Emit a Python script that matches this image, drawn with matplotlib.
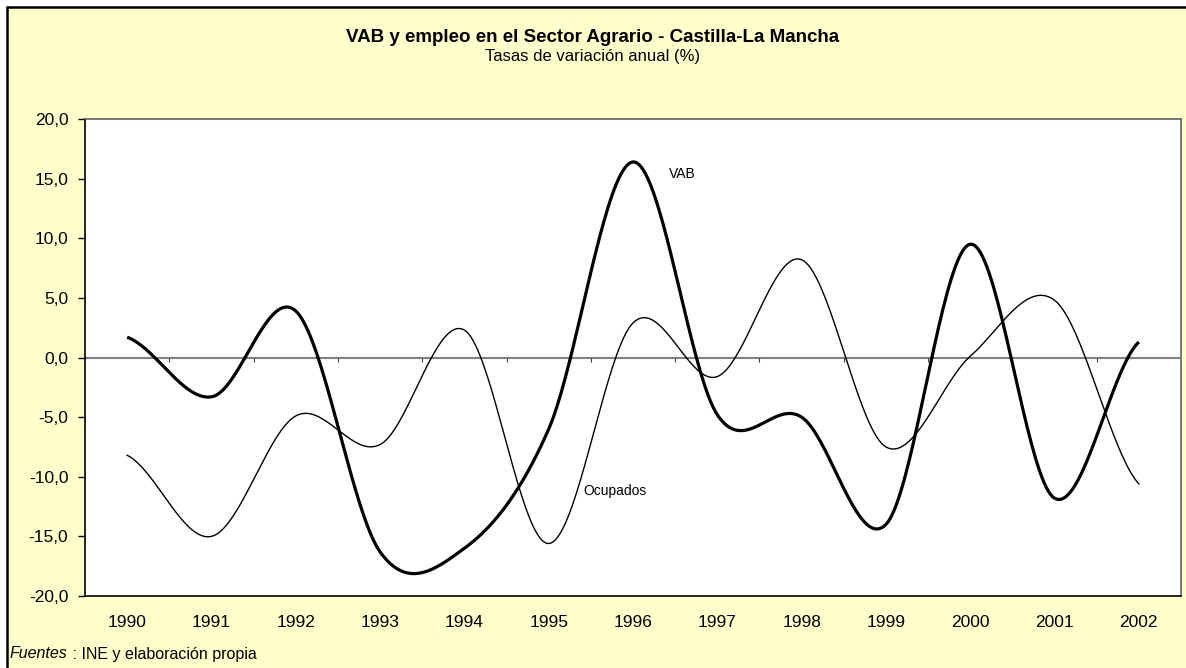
import numpy as np
import matplotlib
matplotlib.use("Agg")
import matplotlib.pyplot as plt
from matplotlib.patches import Rectangle
from matplotlib.ticker import FuncFormatter

plt.rcParams['font.family'] = ['Liberation Sans', 'DejaVu Sans']

### Data (annual rate of change, %)
years = ['1990', '1991', '1992', '1993', '1994', '1995', '1996',
         '1997', '1998', '1999', '2000', '2001', '2002']
vab = [1.7, -3.3, 3.9, -16.3, -16.0, -6.0, 16.4, -4.8, -5.0, -14.0, 9.5, -11.8, 1.3]
ocupados = [-8.2, -15.0, -4.9, -7.3, 2.3, -15.6, 2.9, -1.6, 8.2, -7.5, 0.1, 4.8, -10.6]

yticks = [-20, -15, -10, -5, 0, 5, 10, 15, 20]

title = 'VAB y empleo en el Sector Agrario - Castilla-La Mancha'
subtitle = 'Tasas de variación anual (%)'

BG = '#FFFFCC'


### Excel-like smoothed line (Catmull-Rom through the points)
def smooth(y, n=40):
    y = np.asarray(y, dtype=float)
    p = np.concatenate([[y[0]], y, [y[-1]]])
    xs, ys = [], []
    for i in range(len(y) - 1):
        p0, p1, p2, p3 = p[i], p[i + 1], p[i + 2], p[i + 3]
        t = np.linspace(0, 1, n, endpoint=False)
        m1 = (p2 - p0) / 2
        m2 = (p3 - p1) / 2
        h00 = 2 * t**3 - 3 * t**2 + 1
        h10 = t**3 - 2 * t**2 + t
        h01 = -2 * t**3 + 3 * t**2
        h11 = t**3 - t**2
        xs.append(i + t)
        ys.append(h00 * p1 + h10 * m1 + h01 * p2 + h11 * m2)
    xs.append([len(y) - 1])
    ys.append([y[-1]])
    return np.concatenate(xs), np.concatenate(ys)


fig = plt.figure(figsize=(11.86, 6.68), dpi=100)
fig.patch.set_facecolor('white')

# chart area (yellow) with black border, cropped at right/bottom
fig.patches.append(Rectangle((7 / 1186, -0.05), 1.1, 1 - 7 / 668 + 0.05,
                             transform=fig.transFigure, facecolor=BG,
                             edgecolor='black', linewidth=1.8, zorder=-5))

ax = fig.add_axes([85 / 1186, 1 - 596 / 668, 1096 / 1186, 477 / 668])
ax.set_facecolor('white')

x = np.arange(len(years))
xs, ys = smooth(vab)
ax.plot(xs, ys, color='black', lw=2.3, solid_capstyle='butt', zorder=3)
xs, ys = smooth(ocupados)
ax.plot(xs, ys, color='black', lw=1.0, zorder=3)

# zero line with category separators
ax.axhline(0, color='#808080', lw=1.5, zorder=2)
bounds = np.arange(len(years) + 1) - 0.5
ax.vlines(bounds[1:-1], -0.35, 0, color='#404040', lw=0.8, zorder=2)

ax.set_xlim(-0.5, len(years) - 0.5)
ax.set_ylim(yticks[0], yticks[-1])
ax.set_xticks(x)
ax.set_xticklabels(years)
ax.tick_params(axis='x', length=0, pad=14, labelsize=12.5)
ax.set_yticks(yticks)
ax.yaxis.set_major_formatter(FuncFormatter(lambda v, p: f"{v:.1f}".replace('.', ',')))
ax.tick_params(axis='y', length=5, width=1, pad=7, labelsize=12.5, direction='out')

for s in ['left', 'bottom']:
    ax.spines[s].set_color('black')
    ax.spines[s].set_linewidth(1.2)
for s in ['top', 'right']:
    ax.spines[s].set_color('#606060')
    ax.spines[s].set_linewidth(1.2)

ax.text(6.43, 15.4, 'VAB', fontsize=10, va='center', ha='left')
ax.text(5.41, -11.2, 'Ocupados', fontsize=10, va='center', ha='left')

fig.text(0.5, 1 - 38 / 668, title, ha='center', va='center', fontsize=13.5, fontweight='bold')
fig.text(0.5, 1 - 56 / 668, subtitle, ha='center', va='center', fontsize=12)

t1 = fig.text(10 / 1186, 1 - 654 / 668, 'Fuentes', ha='left', va='center',
              fontsize=11.5, style='italic')
ax.annotate(' : INE y elaboración propia', xy=(1, 0), xycoords=t1,
            ha='left', va='bottom', fontsize=11.5, annotation_clip=False)

plt.savefig('out.png', dpi=100, facecolor=fig.get_facecolor())
